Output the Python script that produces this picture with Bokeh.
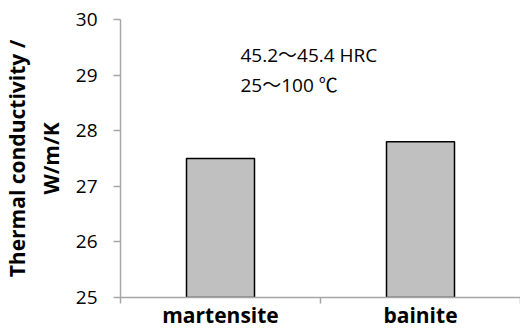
from bokeh.plotting import figure
from bokeh.models import ColumnDataSource, FixedTicker, Label, Range1d
from bokeh.embed import file_html
from bokeh.resources import INLINE

categories = ["martensite", "bainite"]
values = [27.5, 27.8]
y_ticks = [25, 26, 27, 28, 29, 30]
note_lines = ["45.2～45.4 HRC", "25～100 ℃"]

FONT = "'Open Sans', 'Noto Sans CJK JP'"
AXIS_COLOR = "#a6a6a6"

xs = [i + 0.5 for i in range(len(categories))]
src = ColumnDataSource(dict(x=xs, top=values, name=categories))

p = figure(width=520, height=331, output_backend="svg", toolbar_location=None,
           x_range=Range1d(0, len(categories)), y_range=Range1d(25, 30),
           min_border_left=120, min_border_right=0, min_border_top=19,
           min_border_bottom=0)
p.outline_line_color = None
p.grid.visible = False
p.background_fill_color = "white"
p.border_fill_color = "white"

p.vbar(x="x", top="top", bottom=25, width=0.34, source=src,
       fill_color="#c0c0c0", line_color="black", line_width=1.5)

# x axis
p.xaxis.ticker = FixedTicker(ticks=xs, minor_ticks=list(range(len(categories) + 1)))
p.xaxis.major_label_overrides = {x: c for x, c in zip(xs, categories)}
p.xaxis.major_tick_in = 0
p.xaxis.major_tick_out = 0
p.xaxis.minor_tick_in = 0
p.xaxis.minor_tick_out = 6
p.xaxis.minor_tick_line_color = AXIS_COLOR
p.xaxis.minor_tick_line_width = 1.5
p.xaxis.axis_line_color = AXIS_COLOR
p.xaxis.axis_line_width = 1.5
p.xaxis.major_label_text_font = FONT
p.xaxis.major_label_text_font_style = "bold"
p.xaxis.major_label_text_font_size = "21px"
p.xaxis.major_label_text_color = "black"
p.xaxis.major_label_standoff = -3

# y axis
p.yaxis.ticker = FixedTicker(ticks=y_ticks)
p.yaxis.major_tick_in = 0
p.yaxis.major_tick_out = 7
p.yaxis.minor_tick_line_color = None
p.yaxis.major_tick_line_color = AXIS_COLOR
p.yaxis.major_tick_line_width = 1.5
p.yaxis.axis_line_color = AXIS_COLOR
p.yaxis.axis_line_width = 1.5
p.yaxis.major_label_text_font = FONT
p.yaxis.major_label_text_font_size = "19px"
p.yaxis.major_label_text_color = "black"
p.yaxis.major_label_standoff = 16
p.yaxis.axis_label = "Thermal conductivity /\nW/m/K"
p.yaxis.axis_label_text_font = FONT
p.yaxis.axis_label_text_font_style = "bold"
p.yaxis.axis_label_text_font_size = "21px"
p.yaxis.axis_label_text_color = "black"
p.yaxis.axis_label_standoff = 8

for i, line in enumerate(note_lines):
    p.add_layout(Label(x=0.6, y=29.37 - i * 0.54, text=line,
                       text_font=FONT, text_font_size="19px",
                       text_color="black", text_baseline="alphabetic"))

open("out.html", "w").write(file_html(p, INLINE))
